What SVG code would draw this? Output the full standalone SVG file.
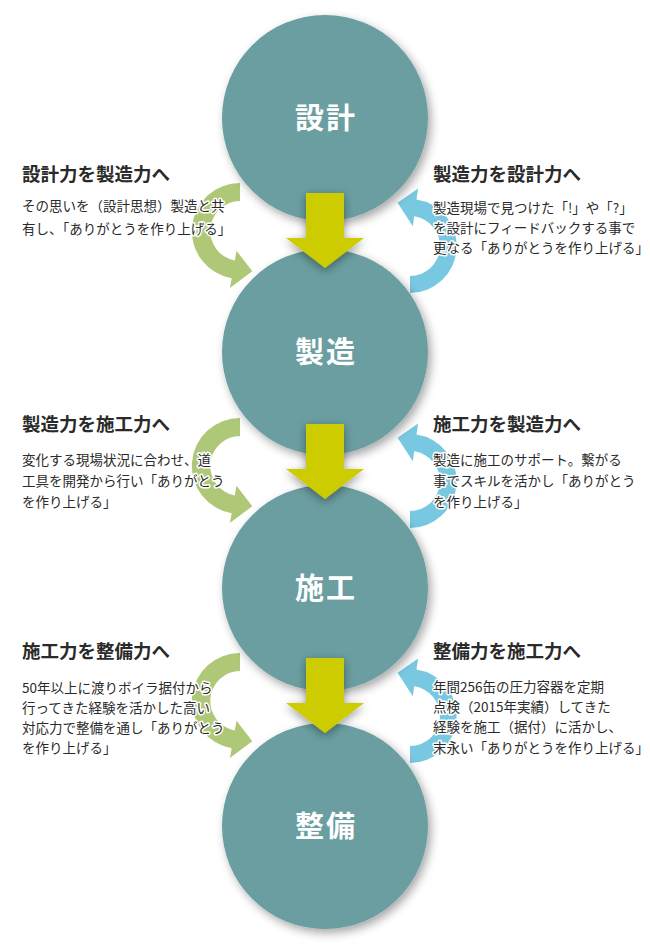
<svg xmlns="http://www.w3.org/2000/svg" xmlns:xlink="http://www.w3.org/1999/xlink" width="650" height="950" viewBox="0 0 650 950">
<defs>
<filter id="sh" x="-20%" y="-20%" width="140%" height="140%">
<feDropShadow dx="3" dy="4" stdDeviation="5" flood-color="#000" flood-opacity="0.35"/>
</filter>
<filter id="sh2" x="-40%" y="-40%" width="180%" height="180%">
<feDropShadow dx="0" dy="3" stdDeviation="5" flood-color="#000" flood-opacity="0.4"/>
</filter>
<path id="garr" d="M240,183 A48,48 0 0 0 231.7,278.3 L229.9,288.1 L252.3,271.2 L236.5,250.7 L234.8,260.5 A30,30 0 0 1 240,201 Z"/>
<path id="barr" d="M410,293 A47,47 0 0 0 416.5,199.5 L418.1,188.6 L397.6,202.8 L412.8,226.2 L414.2,216.3 A30,30 0 0 1 410,276 Z"/>
<path id="yarr" d="M306,193 H344 V238 H364 L325,268 L286,238 H306 Z"/>
</defs>
<style>
.circ{fill:#6A9EA0;filter:url(#sh)}
.lab{font-family:"Noto Sans CJK JP",sans-serif;font-weight:bold;font-size:29px;fill:#fff;text-anchor:middle;letter-spacing:2px}
.g{fill:#AEC878}
.b{fill:#78C8E1}
.y{fill:#CCCC00;filter:url(#sh2)}
.h{font-family:"Noto Sans CJK JP",sans-serif;font-weight:bold;font-size:18.5px;fill:#2a2a2a;stroke:#fff;stroke-width:3;paint-order:stroke;stroke-linejoin:round}
.t{font-family:"Noto Sans CJK JP",sans-serif;font-size:13.5px;fill:#2a2a2a;stroke:#fff;stroke-width:3;paint-order:stroke;stroke-linejoin:round}
</style>
<rect width="650" height="950" fill="#fff"/>
<g id="side-arrows">
<use xlink:href="#garr" class="g"/>
<use xlink:href="#garr" class="g" transform="translate(0,235)"/>
<use xlink:href="#garr" class="g" transform="translate(0,470)"/>
<use xlink:href="#barr" class="b"/>
<use xlink:href="#barr" class="b" transform="translate(0,235)"/>
<use xlink:href="#barr" class="b" transform="translate(0,470)"/>
</g>
<g id="node-sekkei"><circle class="circ" cx="325" cy="118" r="103"/><text class="lab" x="326" y="129">設計</text></g>
<g id="node-seizou"><circle class="circ" cx="325" cy="352" r="103"/><text class="lab" x="326" y="363">製造</text></g>
<g id="node-sekou"><circle class="circ" cx="325" cy="588" r="103"/><text class="lab" x="326" y="599">施工</text></g>
<g id="node-seibi"><circle class="circ" cx="325" cy="826" r="103"/><text class="lab" x="326" y="837">整備</text></g>
<g id="connectors">
<use xlink:href="#yarr" class="y"/>
<use xlink:href="#yarr" class="y" transform="translate(0,231)"/>
<use xlink:href="#yarr" class="y" transform="translate(0,465)"/>
</g>
<g id="text-l1">
<text class="h" x="22" y="181">設計力を製造力へ</text>
<text class="t" x="22" y="211">その思いを（設計思想）製造と共</text>
<text class="t" x="22" y="234">有し、「ありがとうを作り上げる」</text>
</g>
<g id="text-r1">
<text class="h" x="433" y="181">製造力を設計力へ</text>
<text class="t" x="433" y="213">製造現場で見つけた「!」や「?」</text>
<text class="t" x="433" y="233">を設計にフィードバックする事で</text>
<text class="t" x="433" y="253">更なる「ありがとうを作り上げる」</text>
</g>
<g id="text-l2">
<text class="h" x="22" y="431">製造力を施工力へ</text>
<text class="t" x="22" y="465">変化する現場状況に合わせ、道</text>
<text class="t" x="22" y="486">工具を開発から行い「ありがとう</text>
<text class="t" x="22" y="507">を作り上げる」</text>
</g>
<g id="text-r2">
<text class="h" x="433" y="431">施工力を製造力へ</text>
<text class="t" x="433" y="465">製造に施工のサポート。繋がる</text>
<text class="t" x="433" y="486">事でスキルを活かし「ありがとう</text>
<text class="t" x="433" y="507">を作り上げる」</text>
</g>
<g id="text-l3">
<text class="h" x="22" y="658">施工力を整備力へ</text>
<text class="t" x="22" y="693">50年以上に渡りボイラ据付から</text>
<text class="t" x="22" y="713">行ってきた経験を活かした高い</text>
<text class="t" x="22" y="733">対応力で整備を通し「ありがとう</text>
<text class="t" x="22" y="753">を作り上げる」</text>
</g>
<g id="text-r3">
<text class="h" x="433" y="658">整備力を施工力へ</text>
<text class="t" x="433" y="692">年間256缶の圧力容器を定期</text>
<text class="t" x="433" y="712">点検（2015年実績）してきた</text>
<text class="t" x="433" y="732">経験を施工（据付）に活かし、</text>
<text class="t" x="433" y="753">末永い「ありがとうを作り上げる」</text>
</g>
</svg>
